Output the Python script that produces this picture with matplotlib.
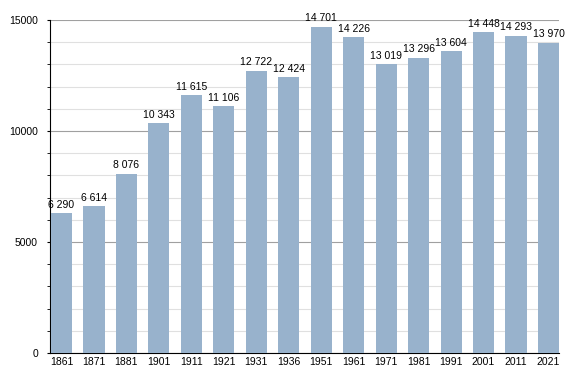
import matplotlib
matplotlib.use("Agg")
import matplotlib.pyplot as plt
from matplotlib.ticker import MultipleLocator

years = ["1861", "1871", "1881", "1901", "1911", "1921", "1931", "1936",
         "1951", "1961", "1971", "1981", "1991", "2001", "2011", "2021"]
population = [6290, 6614, 8076, 10343, 11615, 11106, 12722, 12424,
              14701, 14226, 13019, 13296, 13604, 14448, 14293, 13970]
yticks = [0, 5000, 10000, 15000]

plt.rcParams['font.family'] = ['Liberation Sans', 'DejaVu Sans']

fig = plt.figure(figsize=(5.88, 3.73), dpi=100)
ax = fig.add_axes([50/588, 20/373, (559-50)/588, (353-20)/373])

x = list(range(len(years)))
w = 0.65
ax.bar(x, population, width=w, color="#98B2CC", zorder=3)

for xi, v in zip(x, population):
    s = f"{v:,}".replace(",", " ")
    ax.annotate(s, (xi, v), xytext=(0, 2.5), textcoords="offset points",
                ha="center", va="bottom", fontsize=7.5, color="black", zorder=4)

ax.set_xlim(-w/2 - 0.03, len(years) - 1 + w/2)
ax.set_ylim(0, 15000)
ax.set_xticks(x)
ax.set_xticklabels(years, fontsize=7.5)
ax.set_yticks(yticks)
ax.set_yticklabels([str(t) for t in yticks], fontsize=7.5)
ax.yaxis.set_minor_locator(MultipleLocator(1000))

ax.grid(axis="y", which="major", color="#A0A0A0", linewidth=0.8, zorder=0)
ax.grid(axis="y", which="minor", color="#E0E0E0", linewidth=0.8, zorder=0)
ax.grid(axis="x", visible=False)

for s in ["top", "right"]:
    ax.spines[s].set_visible(False)
ax.spines["left"].set_color("black")
ax.spines["bottom"].set_color("black")
ax.tick_params(axis="x", length=0, pad=3)
ax.tick_params(axis="y", which="major", length=2.2, pad=6.5, direction="out")
ax.tick_params(axis="y", which="minor", length=2.2, direction="out")

fig.savefig("out.png", dpi=100)
